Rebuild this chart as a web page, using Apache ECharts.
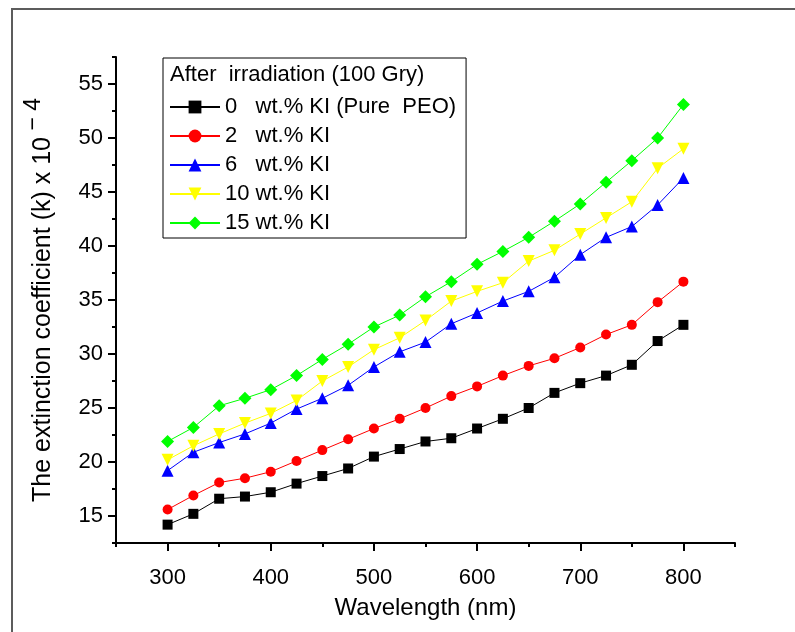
<!DOCTYPE html>
<html>
<head>
<meta charset="utf-8">
<script src="https://cdn.jsdelivr.net/npm/echarts@6/dist/echarts.min.js"></script>
<style>html,body{margin:0;padding:0;background:#fff;}#c{width:795px;height:632px;}</style>
</head>
<body>
<div id="c"></div>
<script>
var wavelength = [300,325,350,375,400,425,450,475,500,525,550,575,600,625,650,675,700,725,750,775,800];
var k0  = [14.2,15.2,16.6,16.8,17.2,18.0,18.7,19.4,20.5,21.2,21.9,22.2,23.1,24.0,25.0,26.4,27.3,28.0,29.0,31.2,32.7];
var k2  = [15.6,16.9,18.1,18.5,19.1,20.1,21.1,22.1,23.1,24.0,25.0,26.1,27.0,28.0,28.9,29.6,30.6,31.8,32.7,34.8,36.7];
var k6  = [19.2,20.9,21.8,22.6,23.6,24.9,25.9,27.1,28.8,30.2,31.1,32.8,33.8,34.9,35.8,37.1,39.2,40.8,41.8,43.8,46.3];
var k10 = [20.2,21.5,22.6,23.6,24.5,25.7,27.5,28.8,30.4,31.5,33.1,34.9,35.8,36.6,38.6,39.6,41.1,42.6,44.1,47.2,49.0];
var k15 = [21.9,23.2,25.2,25.9,26.7,28.0,29.5,30.9,32.5,33.6,35.3,36.7,38.3,39.5,40.8,42.3,43.9,45.9,47.9,50.0,53.1];
var seriesNames = ['0   wt.% KI (Pure  PEO)','2   wt.% KI','6   wt.% KI','10 wt.% KI','15 wt.% KI'];
var xMajor = [300,400,500,600,700,800];
var xMinor = [250,350,450,550,650,750,850];
var yMajor = [15,20,25,30,35,40,45,50,55];
var yMinor = [12.5,17.5,22.5,27.5,32.5,37.5,42.5,47.5,52.5,57.5];
var legendTitle = 'After  irradiation (100 Gry)';

var FONT = 'Liberation Sans';
function pairs(ys){ return wavelength.map(function(x,i){ return [x, ys[i]]; }); }
function mk(name, data, color, symbol, size, rot){
  return {
    name: name, type: 'line', data: pairs(data), xAxisIndex: 0, yAxisIndex: 0,
    symbol: symbol, symbolSize: size, symbolRotate: rot || 0,
    lineStyle: {color: color, width: 1},
    itemStyle: {color: color},
    animation: false
  };
}
var chart = echarts.init(document.getElementById('c'), null, {renderer: 'canvas'});
var axisCommon = {
  axisLine: {show: true, lineStyle: {color: '#000', width: 2}},
  splitLine: {show: false}
};
chart.setOption({
  backgroundColor: '#fff',
  animation: false,
  grid: {left: 116, right: 60, top: 57, bottom: 89},
  xAxis: [
    Object.assign({}, axisCommon, {
      type: 'value', min: 250, max: 850, interval: 50, position: 'bottom',
      name: 'Wavelength (nm)', nameLocation: 'middle', nameGap: 53,
      nameTextStyle: {fontFamily: FONT, fontSize: 24, color: '#000'},
      axisTick: {show: true, inside: false, length: 8, lineStyle: {color: '#000', width: 2}, customValues: xMajor},
      axisLabel: {fontFamily: FONT, fontSize: 22, color: '#000', margin: 24, customValues: xMajor}
    }),
    {
      type: 'value', min: 250, max: 850, interval: 50, position: 'bottom', offset: 0,
      axisLine: {show: false}, splitLine: {show: false},
      axisTick: {show: true, inside: false, length: 4, lineStyle: {color: '#000', width: 2}, customValues: xMinor},
      axisLabel: {show: false}
    }
  ],
  yAxis: [
    Object.assign({}, axisCommon, {
      type: 'value', min: 12.5, max: 57.5, interval: 2.5, position: 'left',
      name: '{a|The extinction coefficient (k) x 10}{b| − 4}', nameLocation: 'middle', nameGap: 60,
      nameTextStyle: {
        fontFamily: FONT, fontSize: 25, color: '#000',
        rich: {
          a: {fontFamily: FONT, fontSize: 25, color: '#000', lineHeight: 34, verticalAlign: 'bottom'},
          b: {fontFamily: FONT, fontSize: 23, color: '#000', lineHeight: 34, verticalAlign: 'top'}
        }
      },
      axisTick: {show: true, inside: false, length: 8, lineStyle: {color: '#000', width: 2}, customValues: yMajor},
      axisLabel: {fontFamily: FONT, fontSize: 22, color: '#000', margin: 13, customValues: yMajor}
    }),
    {
      type: 'value', min: 12.5, max: 57.5, interval: 2.5, position: 'left', offset: 0,
      axisLine: {show: false}, splitLine: {show: false},
      axisTick: {show: true, inside: false, length: 4, lineStyle: {color: '#000', width: 2}, customValues: yMinor},
      axisLabel: {show: false}
    }
  ],
  legend: {
    orient: 'vertical', left: 163, top: 58,
    padding: [38, 10, 4, 6], itemGap: 7, itemWidth: 50, itemHeight: 16,
    borderColor: '#000', borderWidth: 1, backgroundColor: '#fff',
    textStyle: {fontFamily: FONT, fontSize: 22, color: '#000', lineHeight: 22},
    data: seriesNames
  },
  graphic: [
    {type: 'polyline', silent: true, z: 100, shape: {points: [[12, 640], [12, 9], [800, 9]]}, style: {stroke: '#5c5c5c', lineWidth: 2, fill: null}},
    {type: 'text', left: 170, top: 64, z: 100, style: {text: legendTitle, font: '22px "Liberation Sans"', fill: '#000'}}
  ],
  series: [
    mk(seriesNames[0], k0, '#000000', 'rect', 10),
    mk(seriesNames[1], k2, '#ff0000', 'circle', 10),
    mk(seriesNames[2], k6, '#0000ff', 'triangle', 12),
    mk(seriesNames[3], k10, '#ffff00', 'triangle', 12, 180),
    mk(seriesNames[4], k15, '#00ff00', 'diamond', 13)
  ]
});
</script>
</body>
</html>
